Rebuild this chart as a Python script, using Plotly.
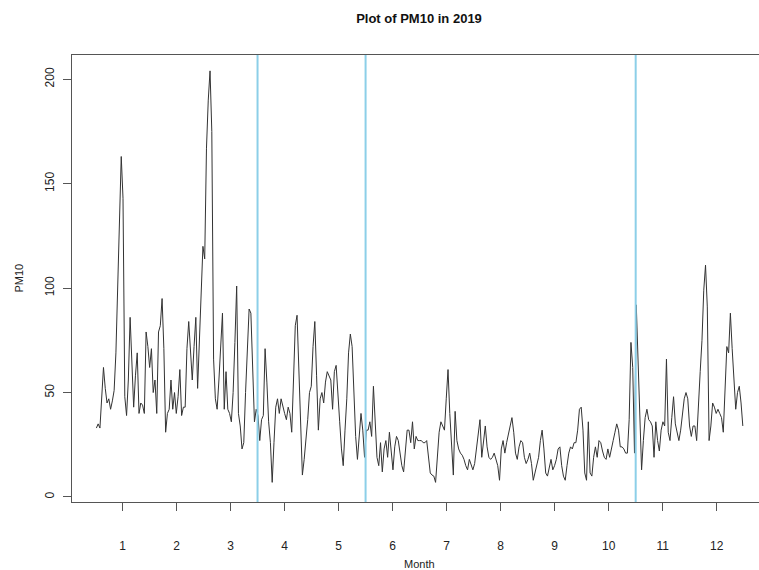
import numpy as np
import plotly.graph_objects as go

# Daily PM10 values for 2019, month by month
jan = [33, 35, 33, 45, 62, 52, 45, 47, 42, 46, 51, 69, 98, 122, 163, 143, 48, 39, 56, 86,
       66, 43, 58, 69, 40, 45, 44, 40, 79, 72, 62]
feb = [71, 50, 56, 40, 79, 82, 95, 71, 31, 40, 42, 56, 42, 50, 40, 48, 61, 39, 43, 43,
       71, 84, 69, 56, 72, 86, 52, 77]
mar = [98, 120, 114, 167, 190, 204, 175, 66, 47, 42, 56, 74, 88, 42, 60, 42, 40, 36, 50, 74,
       101, 40, 34, 23, 26, 50, 71, 90, 88, 58, 36]
apr = [42, 39, 27, 37, 39, 71, 55, 36, 26, 7, 26, 43, 47, 40, 47, 43, 40, 37, 43, 40,
       31, 56, 82, 87, 62, 34, 10.5, 18, 27, 37]
may = [50, 53, 72, 84, 58, 32, 47, 50, 45, 55, 60, 58, 56, 42, 60, 63, 47, 36, 23, 15,
       32, 47, 69, 78, 72, 50, 29, 18, 29, 40, 32]
jun = [19, 32, 32, 36, 29, 53, 36, 19, 15, 26, 12, 23, 27, 19, 31, 23, 13, 24, 29, 27,
       21, 15, 12, 24, 32, 32, 26, 36, 23, 29]
jul = [27, 27, 27, 26, 26, 27, 19, 11.5, 10.5, 10, 7, 18, 31, 36, 34, 32, 47, 61, 40, 24,
       10.5, 41, 27, 23, 21, 20, 18, 15, 13, 18, 15]
aug = [13, 16, 23, 31, 37, 19, 27, 34, 24, 19, 18, 19, 21, 18, 15, 8, 23, 27, 21, 26,
       31, 34, 38, 31, 21, 18, 24, 27, 26, 19, 16]
sep = [18, 21, 16, 8, 12, 15, 19, 27, 32, 23, 11.5, 10, 15, 18, 13, 15, 18, 23, 24, 15,
       10, 8, 15, 21, 24, 23, 26, 26, 32, 42]
oct_ = [43, 32, 11.5, 8, 36, 11.5, 10, 19, 24, 19, 27, 26, 22, 19, 18, 23, 19, 24, 27, 31,
        35, 32, 24, 24, 23, 21, 21, 37, 74, 62, 21]
nov = [92, 65, 34, 13, 27, 38, 42, 37, 36, 34, 19, 36, 27, 22, 32, 36, 34, 66, 31, 27,
       38, 48, 35, 31, 27, 32, 40, 47, 50, 47]
dec = [34, 29, 34, 34, 27, 47, 60, 75, 99, 111, 91, 27, 34, 45, 43, 40, 42, 40, 38, 31,
       48, 72, 69, 88, 71, 56, 42, 50, 53, 45, 34]

pm10 = jan + feb + mar + apr + may + jun + jul + aug + sep + oct_ + nov + dec

month_ticks = list(range(1, 13))
season_breaks = [3.5, 5.5, 10.5]
y_ticks = [0, 50, 100, 150, 200]

day = np.arange(1, len(pm10) + 1)
month_pos = 0.5 + (day - 0.5) * 12 / len(pm10)

fig = go.Figure()
fig.add_trace(go.Scatter(x=month_pos, y=pm10, mode="lines",
                         line=dict(color="#333333", width=1), hoverinfo="x+y"))
for b in season_breaks:
    fig.add_shape(type="line", xref="x", yref="paper", x0=b, x1=b, y0=0, y1=1,
                  line=dict(color="#8ccfe8", width=2))

axis_col = "#555555"
fig.update_layout(
    width=759, height=570,
    margin=dict(l=72, r=0, t=55, b=68),
    plot_bgcolor="white", paper_bgcolor="white",
    showlegend=False,
    font=dict(family="Liberation Sans, Arial, sans-serif", color="#222222"),
    title=dict(text="<b>Plot of PM10 in 2019</b>", x=419 / 759, xref="container",
               xanchor="center", y=1 - 18 / 570, yref="container", yanchor="middle",
               font=dict(size=13, color="#111111")),
)
fig.update_xaxes(range=[0.0652, 12.783], tickvals=month_ticks, ticks="outside", ticklen=8,
                 tickcolor=axis_col, showline=True, linecolor=axis_col, linewidth=1,
                 mirror=True, showgrid=False, zeroline=False, automargin=False,
                 tickfont=dict(size=12), ticklabelstandoff=25)
fig.update_yaxes(range=[-2.4, 211.6], tickvals=y_ticks, ticks="outside", ticklen=8,
                 tickcolor=axis_col, showline=True, linecolor=axis_col, linewidth=1,
                 mirror=False, showgrid=False, zeroline=False, tickangle=-90,
                 automargin=False, tickfont=dict(size=12), ticklabelstandoff=4)
fig.add_annotation(text="Month", xref="paper", yref="paper", x=(419 - 72) / 687, y=0,
                   yanchor="middle", yshift=-(564 - 502), showarrow=False,
                   font=dict(size=11))
fig.add_annotation(text="PM10", xref="paper", yref="paper", x=0, y=0.5, xanchor="center",
                   xshift=-(72 - 18), textangle=-90, showarrow=False, font=dict(size=11))

fig.write_html("out.html", config={"displayModeBar": False},
               post_script="document.body.style.margin='0';document.body.style.overflow='hidden';")
